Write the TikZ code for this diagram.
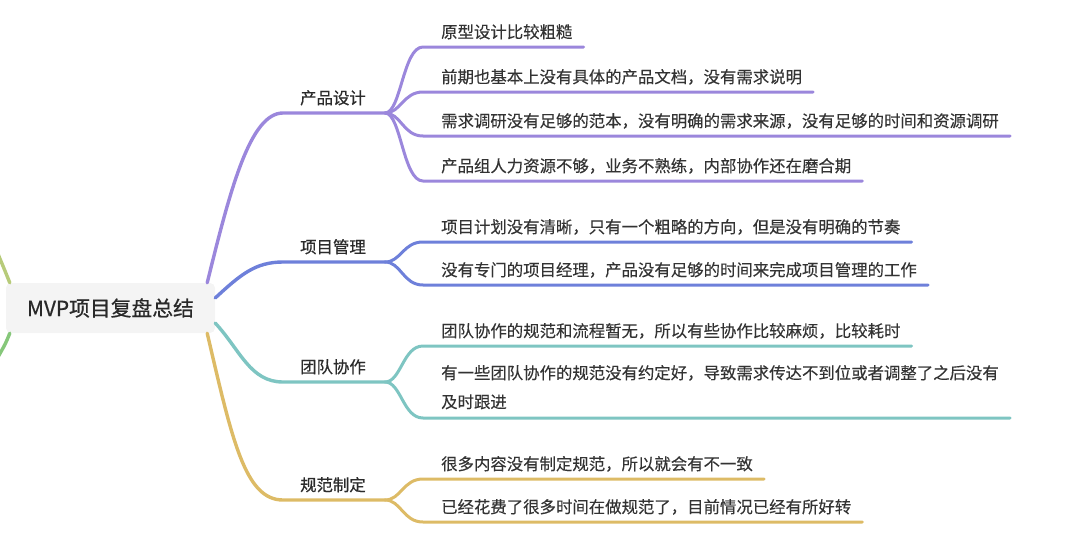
\documentclass[tikz,border=0pt]{standalone}
\usepackage{fontspec}
\setmainfont{Noto Sans CJK SC}
\newfontfamily\subfont[FakeBold=0.25]{Noto Sans CJK SC}
\newfontfamily\medfont[FakeBold=0.7]{Noto Sans CJK SC}
\usetikzlibrary{calc}
\definecolor{cpur}{HTML}{9B87DC}
\definecolor{cblu}{HTML}{6E80DA}
\definecolor{ctea}{HTML}{7EC5C2}
\definecolor{cyel}{HTML}{DDBB66}
\definecolor{cgra}{HTML}{B7CB7A}
\definecolor{cgrb}{HTML}{86C77A}
\definecolor{txt}{HTML}{333333}
\definecolor{rootfill}{HTML}{F4F4F4}
\begin{document}
\begin{tikzpicture}[x=1pt,y=-1pt,
  subtext/.style={anchor=base west, inner sep=0pt, text=txt, font=\subfont\fontsize{16.4}{29}\selectfont},
  maintext/.style={anchor=base west, inner sep=0pt, text=txt!85!black, font=\medfont\fontsize{16.4}{20}\selectfont},
  rootbox/.style={fill=rootfill, rounded corners=5pt, minimum width=209pt, minimum height=50pt, inner sep=0pt, text=txt!80!black, font=\medfont\fontsize{20.8}{24}\selectfont},
  mainline/.style={line width=3.4pt, line cap=round},
  subline/.style={line width=3pt, line cap=round}]
\useasboundingbox (0,0) rectangle (1080,554);

% root
\node[rootbox] (root) at (110.5,308) {MVP项目复盘总结};

% left partial branches
\coordinate (lt) at (-2,254);
\coordinate (lb) at (-2,357);
\draw[mainline, cgra] ($(root.north west)+(4,0)$) .. controls +(-4,-10) .. (lt);
\draw[mainline, cgrb] ($(root.south west)+(4,0)$) .. controls +(-4,10) .. (lb);

% main topics
\node[maintext] (pd) at (300,104) {产品设计};
\node[maintext] (pm) at (300,253) {项目管理};
\node[maintext] (tc) at (300,373) {团队协作};
\node[maintext] (gf) at (300,491) {规范制定};

\draw[mainline, cpur] ($(root.north east)+(-8,0)$) .. controls +(23,-93) and +(-33,0) .. ($(pd.base west)+(-17,9)$) -- ($(pd.base east)+(19,9)$) coordinate (pdf);
\draw[mainline, cblu] ($(root.east)+(0,-10)$) .. controls +(25,-23) and +(-28,0) .. ($(pm.base west)+(-17,9)$) -- ($(pm.base east)+(19,9)$) coordinate (pmf);
\draw[mainline, ctea] ($(root.east)+(0,15)$) .. controls +(25,27) and +(-33,0) .. ($(tc.base west)+(-17,9)$) -- ($(tc.base east)+(19,9)$) coordinate (tcf);
\draw[mainline, cyel] ($(root.south east)+(-8,0)$) .. controls +(25,107) and +(-38,0) .. ($(gf.base west)+(-17,9)$) -- ($(gf.base east)+(19,9)$) coordinate (gff);

% sub topics: product design
\node[subtext] (p1) at (441,38) {原型设计比较粗糙};
\node[subtext] (p2) at (441,83) {前期也基本上没有具体的产品文档，没有需求说明};
\node[subtext] (p3) at (441,127) {需求调研没有足够的范本，没有明确的需求来源，没有足够的时间和资源调研};
\node[subtext] (p4) at (441,172) {产品组人力资源不够，业务不熟练，内部协作还在磨合期};
\foreach \n in {p1,p2,p3,p4}{
  \draw[subline, cpur] (pdf) .. controls +(16,0) and +(-20,0) .. ($(\n.base west)+(-18,9)$) -- ($(\n.base east)+(11,9)$);
}

% project management
\node[subtext] (m1) at (441,233) {项目计划没有清晰，只有一个粗略的方向，但是没有明确的节奏};
\node[subtext] (m2) at (441,276) {没有专门的项目经理，产品没有足够的时间来完成项目管理的工作};
\foreach \n in {m1,m2}{
  \draw[subline, cblu] (pmf) .. controls +(16,0) and +(-20,0) .. ($(\n.base west)+(-18,9)$) -- ($(\n.base east)+(11,9)$);
}

% team collaboration
\node[subtext] (t1) at (441,337) {团队协作的规范和流程暂无，所以有些协作比较麻烦，比较耗时};
\node[subtext, text width=557.6pt, align=left] (t2) at (441,379) {有一些团队协作的规范没有约定好，导致需求传达不到位或者调整了之后没有\\及时跟进};
\draw[subline, ctea] (tcf) .. controls +(16,0) and +(-20,0) .. ($(t1.base west)+(-18,9)$) -- ($(t1.base east)+(11,9)$);
\draw[subline, ctea] (tcf) .. controls +(16,0) and +(-20,0) .. ($(t2.base west)+(-18,39)$) -- ($(t2.base east)+(11,39)$);

% standards
\node[subtext] (g1) at (441,470) {很多内容没有制定规范，所以就会有不一致};
\node[subtext] (g2) at (441,513) {已经花费了很多时间在做规范了，目前情况已经有所好转};
\foreach \n in {g1,g2}{
  \draw[subline, cyel] (gff) .. controls +(16,0) and +(-20,0) .. ($(\n.base west)+(-18,9)$) -- ($(\n.base east)+(11,9)$);
}
\end{tikzpicture}
\end{document}
